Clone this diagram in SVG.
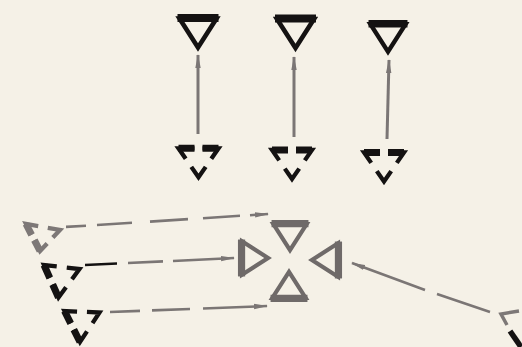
<svg xmlns="http://www.w3.org/2000/svg" width="522" height="347" viewBox="0 0 522 347">
<style>
.bg{fill:#f5f1e7}
.ink{stroke:#141212}
.grey{stroke:#6f6a69}
.lgrey{stroke:#7d7877}
.conn{fill:none;stroke:#7b7675;stroke-width:2.6;stroke-linecap:butt}
.vert{stroke-width:3}
</style>
<defs>
<marker id="ah" markerUnits="userSpaceOnUse" markerWidth="14" markerHeight="8" refX="13" refY="4" orient="auto">
<path d="M0,1.3 L14,4 L0,6.7 Z" fill="#7b7675"/>
</marker>
<g id="stri" fill="none">
<polygon points="-18.5,-15 18.5,-15 0,14" stroke-width="4.6" stroke-linejoin="miter"/>
<line x1="-20.5" y1="-15.5" x2="20.5" y2="-15.5" stroke-width="8"/>
</g>
<g id="dtri" fill="none">
<path d="M-4,-11 L-20,-11 L-12.8,-0.6 M4,-11 L20,-11 L12.8,-0.6 M-7.2,7.6 L0,18 L7.2,7.6" stroke-width="4.3" vector-effect="non-scaling-stroke"/>
<path d="M-4,-11 L-20,-11 M4,-11 L20,-11" stroke-width="7" vector-effect="non-scaling-stroke"/>
</g>
</defs>
<rect class="bg" x="0" y="0" width="522" height="347"/>

<g id="connectors">
<path class="conn vert" d="M198,134 L198,55" marker-end="url(#ah)"/>
<path class="conn vert" d="M294,137 L294,57" marker-end="url(#ah)"/>
<path class="conn vert" d="M387,139 L389,60" marker-end="url(#ah)"/>
<path class="conn" d="M66,226.9 L86,225.7 M97,225 L132,222.7 M150,221.6 L188,219.1 M203,218.2 L240,215.8 M250,215.2 L268,214" marker-end="url(#ah)"/>
<path fill="none" stroke="#141212" stroke-width="2.6" d="M85,265 L117,263.5"/>
<path class="conn" d="M128,263 L163,261.4 M173,261 L234,258" marker-end="url(#ah)"/>
<path class="conn" d="M110,312 L140,310.9 M152,310.4 L190,309 M203,308.5 L267,306" marker-end="url(#ah)"/>
<path class="conn" d="M490,312 L437,294 M425,290 L352,263" marker-end="url(#ah)"/>
</g>

<g id="top-1"><use href="#stri" class="ink" transform="translate(198,33.5)"/></g>
<g id="top-2"><use href="#stri" class="ink" transform="translate(295.5,34)"/></g>
<g id="top-3"><use href="#stri" class="ink" transform="translate(388,38.5) scale(0.95)"/></g>

<g id="dash-1"><use href="#dtri" class="ink" transform="translate(198.5,159.3)"/></g>
<g id="dash-2"><use href="#dtri" class="ink" transform="translate(292,161)"/></g>
<g id="dash-3"><use href="#dtri" class="ink" transform="translate(384,163.5)"/></g>

<g id="left-1"><use href="#dtri" class="lgrey" transform="matrix(-0.35,-0.675,0.931,-0.2586,43.24,234.66)"/></g>
<g id="left-2"><use href="#dtri" class="ink" transform="matrix(-0.3625,-0.8125,0.974,-0.4224,61.96,276.6)"/></g>
<g id="left-3"><use href="#dtri" class="ink" transform="matrix(-0.3875,-0.775,0.9397,-0.4828,82.59,321.19)"/></g>

<g id="centre">
<use href="#stri" class="grey" transform="translate(290,237.5) scale(0.9)"/>
<use href="#stri" class="grey" transform="translate(289,284.5) rotate(180) scale(0.9)"/>
<use href="#stri" class="grey" transform="translate(255.5,258) rotate(-90) scale(0.9)"/>
<use href="#stri" class="grey" transform="translate(324.5,260) rotate(90) scale(0.9)"/>
</g>

<g id="bottom-right">
<path d="M519,311 L501,314 L507,325" fill="none" stroke="#7d7877" stroke-width="3.5"/>
<path d="M510,331 L521,347" fill="none" stroke="#141212" stroke-width="5.5"/>
</g>
</svg>
